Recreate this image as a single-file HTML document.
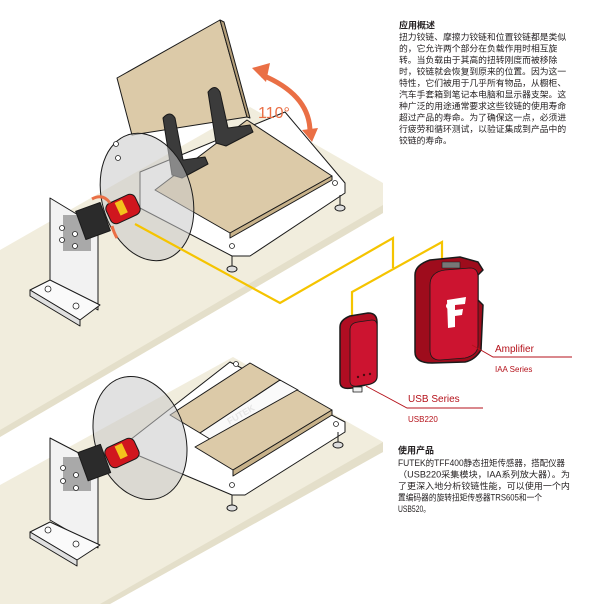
<!DOCTYPE html>
<html><head><meta charset="utf-8"><style>
html,body{margin:0;padding:0;background:#fff;width:600px;height:604px;overflow:hidden}
svg{display:block}
.t{font-family:"Liberation Sans","Noto Sans CJK SC",sans-serif;font-size:8.8px;fill:#231f20}
.h{font-weight:bold;font-size:9px}
.r{font-family:"Liberation Sans",sans-serif;fill:#b5121b}
</style></head><body>
<svg width="600" height="604" viewBox="0 0 600 604" xmlns="http://www.w3.org/2000/svg">
<!-- floor bands -->
<polygon points="0,250 250,107 383,183 383,213 0,437" fill="#f1eddd"/>
<polygon points="0,437 383,213 383,205 0,430" fill="#e4dfca"/>
<polygon points="0,485 233,357 383,442 383,452 110,604 0,604" fill="#f1eddd"/>
<polygon points="383,442 383,452 110,604 100,604" fill="#e4dfca"/>

<!-- ===== TOP ASSEMBLY ===== -->
<g stroke="#1a1a1a" stroke-width="1" stroke-linejoin="round">
<polygon points="140,172 285,112 345,183 345,193 250,256 232,256 140,208" fill="#fff"/>
<polygon points="155,190 247,120 332,176 230,233" fill="#dccaa8"/>
<polygon points="230,233 332,176 332,180 230,238" fill="#c8b28a"/>
<polygon points="117,78 220,20 247,117 132,135" fill="#dccaa8"/>
<polygon points="220,20 224,22 250,118 247,117" fill="#b59f7a"/>
<line x1="232" y1="256" x2="232" y2="268"/><ellipse cx="232" cy="269" rx="5" ry="3" fill="#ddd"/>
<line x1="340" y1="195" x2="340" y2="207"/><ellipse cx="340" cy="208" rx="5" ry="3" fill="#ddd"/>
<!-- hinges -->
<path d="M163,118 Q170,110 175,118 L183,160 L205,157 L208,164 L182,178 L172,175 Z" fill="#3b3b3b"/>
<path d="M208,92 Q215,83 220,92 L228,128 L250,125 L253,132 L226,146 L216,143 Z" fill="#3b3b3b"/>
<!-- disc -->
<ellipse cx="147" cy="197" rx="45" ry="65" transform="rotate(-16 147 197)" fill="#c8c8c8" fill-opacity="0.55"/>
<!-- bracket -->
<polygon points="50,198 98,227 98,310 50,282" fill="#f2f2f2"/>
<polygon points="30,290 50,280 100,305 80,320" fill="#fafafa"/>
<polygon points="30,290 80,320 80,326 30,296" fill="#e0e0e0"/>
<rect x="63" y="215" width="28" height="36" fill="#a9a9a9" stroke="none"/>
<rect x="80" y="206" width="26" height="30" fill="#2b2b2b" transform="rotate(-20 93 221)"/>
<rect x="107" y="198" width="32" height="22" rx="6" fill="#d0161e" transform="rotate(-25 123 209)"/>
<rect x="118" y="200" width="8" height="14" fill="#f4c21c" stroke="none" transform="rotate(-25 123 209)"/>
</g>
<g fill="#fff" stroke="#222" stroke-width="0.8">
<circle cx="62" cy="228" r="2.5"/><circle cx="62" cy="240" r="2.5"/><circle cx="75" cy="234" r="2.5"/><circle cx="75" cy="246" r="2.5"/>
<circle cx="48" cy="289" r="3"/><circle cx="76" cy="306" r="3"/>
<circle cx="232" cy="246" r="2.5"/><circle cx="335" cy="183" r="2.5"/>
<circle cx="116" cy="144" r="2.5"/><circle cx="118" cy="158" r="2.5"/>
</g>
<!-- orange rotation arrows small -->
<path d="M92,199 Q103,193 110,203" fill="none" stroke="#ea6f45" stroke-width="3"/>
<path d="M112,226 Q114,233 117,238" fill="none" stroke="#ea6f45" stroke-width="3"/>
<!-- 110 arc -->
<path d="M262,75 Q310,95 310,132" fill="none" stroke="#ea6f45" stroke-width="5"/>
<polygon points="252,68 270,63 266,82" fill="#ea6f45"/>
<polygon points="302,130 318,128 312,142" fill="#ea6f45"/>
<text x="258" y="118" font-family="Liberation Sans,sans-serif" font-size="16" fill="#ea6f45">110°</text>

<!-- wires -->
<g fill="none" stroke="#f5c400" stroke-width="2.2" stroke-linejoin="miter">
<polyline points="135,224 280,303 393,238 393,268"/>
<polyline points="352,318 352,292 442,242 442,265"/>
</g>

<!-- ===== BOTTOM ASSEMBLY ===== -->
<g stroke="#1a1a1a" stroke-width="1" stroke-linejoin="round">
<polygon points="130,440 230,362 345,422 345,432 245,495 232,495 130,452" fill="#fff"/>
<polygon points="170,415 250,363 280,380 200,433" fill="#dccaa8"/>
<polygon points="200,433 280,380 298,390 218,444" fill="#fafafa"/>
<polygon points="195,447 297,390 332,410 233,470" fill="#dccaa8"/>
<polygon points="233,470 332,410 332,415 233,476" fill="#c8b28a"/>
<line x1="232" y1="495" x2="232" y2="507"/><ellipse cx="232" cy="508" rx="5" ry="3" fill="#ddd"/>
<line x1="338" y1="432" x2="338" y2="444"/><ellipse cx="338" cy="445" rx="5" ry="3" fill="#ddd"/>
<ellipse cx="140" cy="438" rx="45" ry="63" transform="rotate(-18 140 438)" fill="#c8c8c8" fill-opacity="0.55"/>
<polygon points="50,438 98,463 98,548 50,520" fill="#f2f2f2"/>
<polygon points="30,532 50,522 100,545 77,560" fill="#fafafa"/>
<polygon points="30,532 77,560 77,566 30,538" fill="#e0e0e0"/>
<rect x="63" y="457" width="28" height="34" fill="#a9a9a9" stroke="none"/>
<rect x="82" y="448" width="24" height="30" fill="#2b2b2b" transform="rotate(-20 93 462)"/>
<rect x="106" y="442" width="32" height="22" rx="6" fill="#d0161e" transform="rotate(-25 122 453)"/>
<rect x="118" y="444" width="8" height="14" fill="#f4c21c" stroke="none" transform="rotate(-25 122 453)"/>
</g>
<text x="226" y="418" font-family="Liberation Sans,sans-serif" font-weight="bold" font-size="9" fill="#e6e6e6" transform="rotate(-30 240 415)">FUTEK</text>
<g fill="#fff" stroke="#222" stroke-width="0.8">
<circle cx="63" cy="468" r="2.5"/><circle cx="63" cy="481" r="2.5"/><circle cx="76" cy="475" r="2.5"/><circle cx="76" cy="488" r="2.5"/>
<circle cx="48" cy="530" r="3"/><circle cx="76" cy="544" r="3"/>
<circle cx="232" cy="485" r="2.5"/><circle cx="336" cy="424" r="2.5"/><circle cx="236" cy="364" r="2.5"/>
</g>

<!-- USB device -->
<g stroke="#1a1a1a" stroke-width="1.5" stroke-linejoin="round">
<path d="M340,327 Q340,320 350,316 L368,313 Q377,313 377,322 L377,376 Q377,382 370,384 L352,388 Q340,390 340,382 Z" fill="#b00d22"/>
<path d="M350,330 Q350,323 358,322 L372,320 Q377,320 377,326 L377,376 Q377,382 370,384 L357,386 Q350,387 350,381 Z" fill="#cc1430" stroke-width="0.8"/>
<rect x="353" y="387" width="9" height="5" fill="#eee" stroke-width="0.8"/>
</g>
<g fill="#4a0a10"><circle cx="358" cy="377" r="1.2"/><circle cx="364" cy="375" r="1.2"/><circle cx="370" cy="374" r="1.2"/></g>
<!-- Amplifier -->
<g stroke="#1a1a1a" stroke-width="1.5" stroke-linejoin="round">
<path d="M415,275 Q415,265 430,260 L460,257 L478,262 L483,270 L478,275 L478,300 L483,305 L481,350 Q475,360 465,362 L432,363 Q415,363 415,352 Z" fill="#9e0c1c"/>
<path d="M430,285 Q430,272 445,270 L470,268 Q478,268 478,277 L478,345 Q478,355 465,358 L440,360 Q430,360 430,350 Z" fill="#cc1430" stroke-width="0.8"/>
<rect x="442" y="262" width="18" height="6" fill="#777" stroke-width="0.6"/>
</g>
<path d="M447,300 L466,297 L465,304 L455,305 L455,310 L463,309 L462,315 L455,316 L455,327 L448,328 Z" fill="#fff"/>
<circle cx="449" cy="306" r="3" fill="#fff"/>

<!-- labels -->
<g fill="none" stroke="#b5121b" stroke-width="0.9">
<polyline points="472,345 493,357 572,357"/>
<polyline points="366,386 407,408 483,408"/>
</g>
<text class="r" x="495" y="352" font-size="10">Amplifier</text>
<text class="r" x="495" y="372" font-size="8">IAA Series</text>
<text class="r" x="408" y="402" font-size="10">USB Series</text>
<text class="r" x="408" y="422" font-size="8">USB220</text>

<!-- text blocks -->
<text class="t h" x="399" y="28.5">应用概述</text>
<text class="t" x="399" y="40">扭力铰链、摩擦力铰链和位置铰链都是类似</text>
<text class="t" x="399" y="51.5">的，它允许两个部分在负载作用时相互旋</text>
<text class="t" x="399" y="63">转。当负载由于其高的扭转刚度而被移除</text>
<text class="t" x="399" y="74.5">时，铰链就会恢复到原来的位置。因为这一</text>
<text class="t" x="399" y="86">特性，它们被用于几乎所有物品，从橱柜、</text>
<text class="t" x="399" y="97.5">汽车手套箱到笔记本电脑和显示器支架。这</text>
<text class="t" x="399" y="109">种广泛的用途通常要求这些铰链的使用寿命</text>
<text class="t" x="399" y="120.5">超过产品的寿命。为了确保这一点，必须进</text>
<text class="t" x="399" y="132">行疲劳和循环测试，以验证集成到产品中的</text>
<text class="t" x="399" y="143.5">铰链的寿命。</text>

<text class="t h" x="398" y="453.5">使用产品</text>
<text class="t" x="398" y="466" textLength="167" lengthAdjust="spacingAndGlyphs">FUTEK的TFF400静态扭矩传感器，搭配仪器</text>
<text class="t" x="398" y="477.5" textLength="172" lengthAdjust="spacingAndGlyphs">（USB220采集模块，IAA系列放大器）。为</text>
<text class="t" x="398" y="489" textLength="172" lengthAdjust="spacingAndGlyphs">了更深入地分析铰链性能，可以使用一个内</text>
<text class="t" x="398" y="500.5" textLength="144" lengthAdjust="spacingAndGlyphs">置编码器的旋转扭矩传感器TRS605和一个</text>
<text class="t" x="398" y="512" textLength="32" lengthAdjust="spacingAndGlyphs">USB520。</text>
</svg>
</body></html>
